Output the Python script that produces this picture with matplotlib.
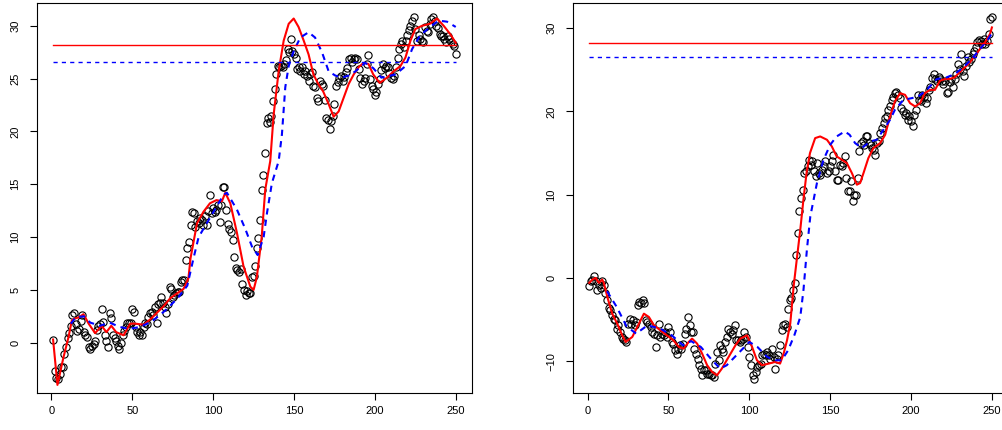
import matplotlib
matplotlib.use("Agg")
import matplotlib.pyplot as plt
import numpy as np

plt.rcParams['font.family'] = ['Liberation Sans', 'DejaVu Sans']

# ---- left series (observed points, t = 1..250)
left_y = [
    0.3, -2.7, -3.3, -3.4, -3.0, -2.3, -2.3, -1.1, -0.4, 0.4,
    0.9, 1.6, 2.6, 2.8, 1.8, 1.1, 1.3, 2.1, 2.6, 1.0,
    0.7, 0.5, -0.4, -0.6, -0.3, -0.1, 0.2, 1.2, 1.6, 1.8,
    3.2, 2.0, 0.7, 0.2, -0.4, 2.8, 2.3, 0.7, 0.4, 0.2,
    -0.3, -0.6, 0.0, 0.7, 1.1, 1.5, 1.9, 1.9, 1.9, 3.2,
    2.9, 1.5, 1.0, 0.7, 1.0, 0.7, 1.5, 1.9, 1.8, 2.4,
    2.8, 2.9, 2.6, 3.4, 1.9, 3.7, 3.8, 4.3, 3.8, 3.4,
    2.8, 3.7, 5.3, 5.1, 4.3, 4.5, 4.7, 4.8, 4.8, 5.7,
    5.9, 5.9, 7.8, 9.0, 9.5, 11.1, 12.4, 12.3, 11.0, 11.5,
    11.3, 11.8, 11.6, 11.1, 12.0, 11.1, 12.5, 14.0, 12.3, 12.8,
    12.4, 12.6, 13.0, 11.4, 13.0, 14.7, 14.7, 12.6, 11.2, 10.8,
    10.5, 9.7, 8.1, 7.1, 6.9, 6.7, 7.0, 5.6, 5.0, 4.5,
    4.9, 4.7, 4.7, 6.2, 6.3, 7.3, 9.0, 9.9, 11.6, 14.5,
    15.9, 18.0, 20.8, 21.3, 20.9, 21.5, 22.9, 24.0, 25.4, 26.2,
    26.1, 26.2, 26.1, 26.4, 26.8, 27.8, 27.5, 28.8, 27.6, 27.3,
    27.0, 25.9, 26.1, 25.7, 26.1, 25.4, 25.7, 25.3, 24.8, 25.4,
    25.6, 24.3, 24.2, 23.2, 22.9, 24.8, 24.5, 24.3, 23.0, 21.3,
    21.1, 20.2, 21.0, 21.5, 22.6, 24.3, 24.7, 25.1, 25.3, 24.8,
    25.2, 25.6, 26.0, 26.9, 27.0, 26.6, 26.9, 27.0, 26.9, 25.9,
    25.1, 24.5, 24.8, 25.1, 26.4, 27.2, 25.0, 24.3, 24.0, 23.5,
    23.7, 24.5, 25.0, 25.8, 26.4, 26.0, 26.2, 26.1, 25.5, 25.1,
    25.0, 25.3, 26.1, 27.0, 27.8, 28.3, 28.6, 28.0, 28.6, 29.1,
    29.6, 30.0, 30.5, 30.8, 29.7, 28.6, 29.1, 28.8, 28.6, 28.5,
    29.9, 29.5, 29.4, 30.2, 30.7, 30.8, 30.5, 30.0, 29.8, 29.2,
    29.0, 29.0, 28.8, 28.5, 29.0, 28.8, 28.5, 28.3, 28.1, 27.3,
]

# smoother (red) and lagged average (blue), read at knots
left_red_t = [1, 3.7, 7.4, 10.5, 12.6, 14.7, 17, 19.8, 23, 27,
              31, 34, 37, 40, 44.6, 48.7, 52, 57, 61, 65,
              69, 73.4, 77, 81.7, 84.7, 86, 90, 94, 98, 102,
              105.4, 107.5, 110.6, 114.7, 118.8, 123, 125, 127, 130, 132.2,
              135.3, 137.4, 140.5, 143.6, 146.7, 149.8, 152.8, 156, 159, 162,
              165, 168, 171.4, 174.5, 177.6, 180.7, 183.8, 186.9, 190, 193,
              196, 199, 203, 207.5, 211.6, 215.8, 218.9, 222, 225, 229,
              234, 238.4, 242.6, 246.7, 250]
left_red_v = [0.3, -4.0, -1.4, 0.5, 2.1, 2.3, 2.4, 2.7, 1.8, 0.9,
              1.6, 1.0, 1.6, 1.0, 0.7, 1.8, 1.8, 1.7, 2.2, 2.8,
              3.4, 4.2, 4.6, 5.1, 6.1, 8.0, 11.3, 12.4, 13.2, 13.5,
              13.4, 14.2, 13.2, 10.4, 7.2, 5.3, 5.0, 6.2, 10.0, 14.5,
              17.2, 21.6, 25.7, 28.6, 30.2, 30.7, 29.9, 28.6, 27.3, 25.4,
              24.5, 23.8, 22.6, 21.4, 21.9, 23.2, 24.5, 25.4, 26.1, 26.5,
              26.4, 25.4, 24.6, 25.1, 25.7, 26.2, 27.0, 28.6, 29.7, 30.0,
              30.2, 30.7, 30.0, 29.2, 28.4]
left_blue_t = [12, 15, 20, 24, 30, 36, 42, 48, 55, 62,
               70, 78, 84, 88, 91, 96, 101, 106.4, 108.5, 114.7,
               119.8, 124, 127.5, 131.2, 133.3, 136.3, 140.5, 142.5, 144.6, 146.7,
               149.8, 153.9, 159, 163, 167.3, 171.4, 175.5, 179.6, 183.8, 188,
               194, 199, 204, 212.7, 219, 223, 228, 235, 239.5, 244.6,
               250]
left_blue_v = [1.8, 2.4, 2.5, 1.9, 1.6, 1.9, 1.5, 1.3, 1.5, 2.0,
               3.0, 4.2, 5.4, 8.1, 10.0, 11.3, 12.6, 14.0, 14.2, 12.6,
               10.8, 9.1, 8.3, 10.0, 12.3, 15.1, 17.2, 19.7, 24.2, 26.2,
               27.6, 28.9, 29.4, 28.9, 27.5, 25.7, 25.3, 25.1, 25.3, 25.7,
               26.5, 26.0, 25.1, 25.4, 26.2, 27.8, 29.1, 30.0, 30.5, 30.4,
               29.9]

# ---- right series
right_y = [
    -1.0, -0.4, -0.2, 0.2, -0.4, -1.4, -0.8, -1.2, -0.4, -0.8,
    -1.8, -2.7, -3.6, -3.9, -4.5, -4.9, -5.1, -6.1, -5.7, -6.5,
    -7.1, -7.3, -7.5, -7.7, -5.5, -4.9, -5.5, -5.1, -5.7, -5.3,
    -3.3, -2.9, -3.0, -2.7, -3.0, -5.1, -5.3, -5.5, -5.9, -6.5,
    -6.7, -8.3, -6.9, -5.5, -7.1, -6.7, -6.9, -6.5, -7.1, -5.9,
    -6.5, -7.7, -7.9, -8.7, -9.1, -8.5, -8.1, -8.5, -7.9, -6.7,
    -6.1, -4.7, -5.7, -6.5, -6.5, -8.5, -9.1, -9.7, -10.5, -10.9,
    -11.7, -11.1, -11.1, -11.5, -11.5, -11.7, -11.7, -11.9, -10.3, -8.9,
    -9.9, -8.1, -8.5, -8.9, -7.7, -7.1, -6.1, -6.5, -6.7, -6.3,
    -5.7, -7.5, -7.5, -7.7, -7.5, -7.3, -6.5, -7.1, -8.3, -9.5,
    -10.5, -11.7, -12.1, -11.3, -10.7, -10.5, -10.3, -9.3, -9.1, -9.3,
    -8.9, -9.3, -9.7, -8.5, -9.5, -10.9, -9.7, -9.3, -8.1, -6.3,
    -5.7, -5.5, -5.9, -3.7, -2.7, -2.4, -1.4, -0.6, 2.8, 5.4,
    8.0, 9.6, 10.6, 12.6, 12.8, 13.4, 14.2, 13.6, 14.0, 12.8,
    12.2, 13.8, 12.6, 12.4, 13.0, 13.4, 14.0, 12.6, 12.8, 13.4,
    14.0, 14.8, 12.8, 11.8, 11.8, 13.6, 13.4, 13.8, 14.6, 12.0,
    10.4, 10.4, 11.6, 9.2, 10.0, 10.0, 12.0, 15.2, 16.2, 16.4,
    16.0, 17.0, 17.0, 16.2, 16.0, 15.6, 15.4, 14.8, 16.2, 16.4,
    17.4, 18.0, 18.6, 19.2, 19.4, 20.2, 20.6, 21.4, 21.8, 22.2,
    22.4, 22.0, 21.6, 20.4, 20.0, 19.6, 19.8, 19.0, 19.4, 18.8,
    18.2, 19.6, 20.2, 22.0, 21.4, 21.2, 22.0, 21.8, 21.0, 21.6,
    22.6, 23.0, 24.0, 24.5, 23.9, 23.7, 24.1, 23.9, 23.7, 23.3,
    23.7, 22.2, 22.4, 23.5, 23.9, 23.0, 23.9, 24.5, 25.7, 25.1,
    26.9, 24.9, 24.3, 25.5, 26.5, 25.9, 26.3, 26.9, 27.3, 27.7,
    28.3, 28.6, 28.5, 28.1, 28.7, 28.1, 28.5, 29.3, 31.1, 31.3,
]

right_red_t = [1, 3, 5, 7, 9, 10, 12.2, 15.2, 18.3, 21.4,
               23.5, 27.6, 30.7, 34.8, 37.9, 41, 45, 49, 53, 56.4,
               59.4, 62.5, 64.6, 67.7, 70.8, 73.9, 77, 80, 83, 87.2,
               91.4, 94.4, 98.6, 101.7, 104.7, 107.8, 112, 116, 119, 121.2,
               123.3, 125.3, 127.4, 129.5, 131.5, 133.5, 135.5, 137.5, 140.7, 143.8,
               148, 151, 154, 157.2, 160.3, 163.4, 166.5, 168.5, 170.6, 173.6,
               176.7, 180.9, 184, 187, 190, 193.2, 196.3, 199.4, 202.5, 205.6,
               208.6, 211.7, 214.8, 217.9, 221, 224, 227, 230, 233.3, 236.4,
               239.5, 242.6, 245.7, 248.8, 250]
right_red_v = [-0.6, -0.2, 0.0, -0.6, -0.2, -0.6, -2.3, -4.3, -5.5, -6.9,
               -7.7, -7.1, -5.9, -4.3, -4.7, -5.7, -6.3, -6.9, -7.5, -8.3,
               -8.5, -7.7, -7.3, -7.9, -9.1, -10.5, -11.3, -11.7, -10.9, -9.5,
               -8.1, -7.3, -6.9, -8.3, -9.9, -10.5, -10.3, -10.1, -10.3, -9.1,
               -7.5, -5.5, -1.0, 2.5, 5.8, 9.5, 12.8, 15.0, 16.8, 17.0,
               16.6, 15.8, 14.6, 14.2, 13.8, 12.6, 11.2, 11.4, 12.6, 14.4,
               15.6, 16.2, 17.2, 19.4, 21.2, 22.2, 22.0, 21.0, 20.6, 21.0,
               22.2, 22.6, 22.6, 23.7, 23.9, 23.9, 24.1, 24.7, 25.3, 25.9,
               26.7, 27.5, 28.3, 29.3, 30.1]
right_blue_t = [12, 18, 24, 30, 37, 45, 52, 59, 64, 70,
                77, 82, 86, 90, 94, 100, 105, 111, 116, 120,
                124, 128, 131.5, 133.5, 135.6, 137.7, 141.8, 145.9, 150, 154,
                159, 162, 165.4, 169.6, 174.7, 178.8, 182.9, 187, 190, 195.3,
                200.4, 204.5, 209.7, 215.9, 222, 227, 232.3, 237.5, 242.6, 247.7,
                250]
right_blue_v = [-1.6, -3.5, -5.8, -6.7, -5.7, -6.1, -6.9, -8.1, -7.6, -8.3,
                -9.9, -10.9, -10.5, -9.7, -8.9, -7.7, -8.3, -9.5, -9.9, -9.9,
                -8.7, -6.8, -4.7, -1.4, 3.4, 7.4, 11.4, 14.2, 16.0, 17.0,
                17.6, 17.2, 16.2, 15.6, 16.4, 16.6, 17.8, 19.0, 20.2, 21.4,
                21.6, 21.8, 22.6, 23.9, 24.1, 24.5, 25.3, 26.3, 27.5, 28.7,
                29.4]

# reference levels (same in both panels)
red_level = 28.2
blue_level = 26.6

x_ticks = [0, 50, 100, 150, 200, 250]
left_yticks = [0, 5, 10, 15, 20, 25, 30]
right_yticks = [-10, 0, 10, 20, 30]


def r_range(vals):
    lo, hi = min(vals), max(vals)
    pad = 0.04 * (hi - lo)
    return lo - pad, hi + pad


def panel(ax, y, red_t, red_v, blue_t, blue_v, yticks):
    t = np.arange(1, len(y) + 1)
    ax.plot(t, y, linestyle='none', marker='o', markersize=5.2,
            markerfacecolor='none', markeredgecolor='black', markeredgewidth=0.8)
    ax.plot(red_t, red_v, color='red', lw=1.5)
    ax.plot(blue_t, blue_v, color='blue', lw=1.5, dashes=(3, 2.5))
    ax.plot([t[0], t[-1]], [red_level, red_level], color='red', lw=1.0)
    ax.plot([t[0], t[-1]], [blue_level, blue_level], color='blue', lw=1.0,
            dashes=(3, 3))
    ax.set_xlim(r_range(t))
    ax.set_ylim(r_range(y))
    ax.set_xticks(x_ticks)
    ax.set_yticks(yticks)
    ax.tick_params(direction='out', length=5, width=0.8, labelsize=8)
    ax.tick_params(axis='x', pad=4)
    ax.tick_params(axis='y', pad=7, labelrotation=90)
    for lab in ax.get_yticklabels():
        lab.set_verticalalignment('center')
    for s in ax.spines.values():
        s.set_linewidth(0.8)


fig = plt.figure(figsize=(10.02, 4.30), dpi=100)
ax1 = fig.add_axes([0.0369, 0.086, 0.434, 0.907])
ax2 = fig.add_axes([0.572, 0.086, 0.434, 0.907])

panel(ax1, left_y, left_red_t, left_red_v, left_blue_t, left_blue_v, left_yticks)
panel(ax2, right_y, right_red_t, right_red_v, right_blue_t, right_blue_v, right_yticks)

fig.savefig('out.png', dpi=100)
